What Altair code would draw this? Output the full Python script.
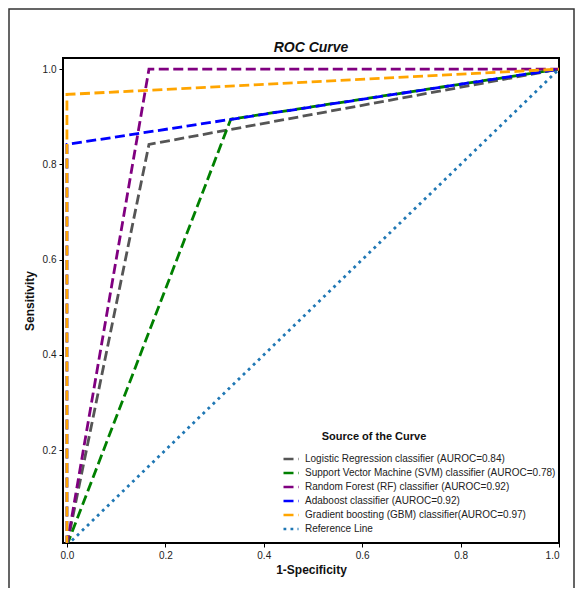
import altair as alt
import pandas as pd

# ---- data ----
series_names = [
    "Logistic Regression classifier (AUROC=0.84)",
    "Support Vector Machine (SVM) classifier (AUROC=0.78)",
    "Random Forest (RF) classifier (AUROC=0.92)",
    "Adaboost classifier (AUROC=0.92)",
    "Gradient boosting (GBM) classifier(AUROC=0.97)",
    "Reference Line",
]
lr_fpr = [0.0, 0.1667, 1.0]
lr_tpr = [0.0, 0.842, 1.0]
svm_fpr = [0.0, 0.333, 1.0]
svm_tpr = [0.0, 0.895, 1.0]
rf_fpr = [0.0, 0.1667, 1.0]
rf_tpr = [0.0, 1.0, 1.0]
ada_fpr = [0.0, 0.0, 1.0]
ada_tpr = [0.0, 0.842, 1.0]
gbm_fpr = [0.0, 0.0, 1.0]
gbm_tpr = [0.0, 0.947, 1.0]
ref_fpr = [0.0, 1.0]
ref_tpr = [0.0, 1.0]

colors = ["#555555", "#008000", "#800080", "#0000ff", "#ffa500", "#1f77b4"]
dashes = [[10, 4.5], [10, 4.5], [10, 4.5], [10, 4.5], [10, 4.5], [2.8, 4.2]]
x_ticks = [0.0, 0.2, 0.4, 0.6, 0.8, 1.0]
y_ticks = [0.2, 0.4, 0.6, 0.8, 1.0]

rows = []
all_fpr = [lr_fpr, svm_fpr, rf_fpr, ada_fpr, gbm_fpr, ref_fpr]
all_tpr = [lr_tpr, svm_tpr, rf_tpr, ada_tpr, gbm_tpr, ref_tpr]
for k, (name, fx, ty) in enumerate(zip(series_names, all_fpr, all_tpr)):
    for i, (a, b) in enumerate(zip(fx, ty)):
        rows.append({"series": name, "k": k, "fpr": a, "tpr": b, "idx": i})
df = pd.DataFrame(rows)

W, H = 496, 485
FONT = "Liberation Sans"

legend_spec = alt.Legend(
    title=None,
    orient="none",
    legendX=219,
    legendY=392,
    symbolType="stroke",
    symbolSize=225,
    symbolStrokeWidth=2.5,
    labelFontSize=10,
    labelFont=FONT,
    labelColor="#222222",
    labelOffset=5,
    rowPadding=-1,
    padding=0,
    labelLimit=400,
)

lines = alt.Chart(df).mark_line(clip=True, strokeWidth=2.8, strokeCap="butt").encode(
    x=alt.X("fpr:Q", scale=alt.Scale(domain=[-0.008, 1.0], nice=False, zero=False),
            axis=alt.Axis(values=x_ticks, format=".1f", title="1-Specificity")),
    y=alt.Y("tpr:Q", scale=alt.Scale(domain=[0.005, 1.0235], nice=False, zero=False),
            axis=alt.Axis(values=y_ticks, format=".1f", title="Sensitivity")),
    color=alt.Color("series:N", scale=alt.Scale(domain=series_names, range=colors),
                    sort=series_names, legend=legend_spec),
    strokeDash=alt.StrokeDash("series:N", scale=alt.Scale(domain=series_names, range=dashes),
                              sort=series_names, legend=legend_spec),
    order="idx:Q",
    detail="k:O",
)

text_df = pd.DataFrame({"t": ["Source of the Curve"], "m": ["ROC Curve"]})
legend_title = alt.Chart(text_df).mark_text(
    font=FONT, fontSize=11, fontWeight="bold", align="center", baseline="middle", color="#111111"
).encode(text="t:N", x=alt.value(311), y=alt.value(379))

main_title = alt.Chart(text_df).mark_text(
    font=FONT, fontSize=14, fontWeight="bold", fontStyle="italic", align="center",
    baseline="alphabetic", color="#111111"
).encode(text="m:N", x=alt.value(W / 2), y=alt.value(-6))

frame_df = pd.DataFrame({"f": [1]})
frame = alt.Chart(frame_df).mark_rect(fillOpacity=0, stroke="#333333", strokeWidth=1.5).encode(
    x=alt.value(-54), x2=alt.value(W + 15), y=alt.value(-49), y2=alt.value(H + 80)
)

chart = alt.layer(lines, legend_title, main_title, frame).properties(
    width=W,
    height=H,
    autosize=alt.AutoSizeParams(type="none"),
    padding={"left": 55, "top": 50, "right": 16, "bottom": 45},
).configure_view(
    stroke="black", strokeWidth=2
).configure_axis(
    domain=False, grid=False, ticks=True, tickColor="black", tickSize=4, tickWidth=1,
    labelFont=FONT, labelFontSize=10, labelColor="#222222", labelPadding=3,
    titleFont=FONT, titleFontSize=12, titleFontWeight="bold", titleColor="#111111",
).configure_axisX(titlePadding=4).configure_axisY(titlePadding=6)

chart.save("out.html", embed_options={"renderer": "svg", "actions": False})
